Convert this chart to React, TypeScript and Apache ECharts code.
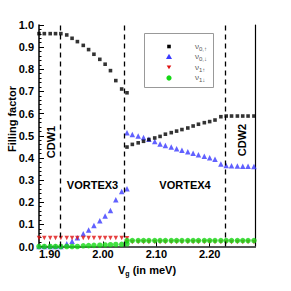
import React, { useEffect, useRef } from "react";
import * as echarts from "echarts";

// Gate voltage values (meV) of the computed points
const vg = [
  1.88, 1.89, 1.901, 1.911, 1.921, 1.932, 1.942, 1.952, 1.963, 1.973, 1.983, 1.994, 2.004, 2.014,
  2.024, 2.035, 2.045, 2.055, 2.066, 2.076, 2.086, 2.097, 2.107, 2.117, 2.128, 2.138, 2.148, 2.159,
  2.169, 2.179, 2.19, 2.2, 2.21, 2.221, 2.231, 2.241, 2.252, 2.262, 2.272, 2.283,
];

// Left branch: vg[0..16], right branch: vg[16..39]
const nu0UpLeft = [0.961, 0.961, 0.961, 0.961, 0.961, 0.955, 0.94, 0.925, 0.908, 0.889, 0.868, 0.845, 0.823, 0.794, 0.749, 0.711, 0.694];
const nu0UpRight = [0.449, 0.461, 0.468, 0.475, 0.483, 0.49, 0.497, 0.507, 0.514, 0.521, 0.528, 0.535, 0.544, 0.552, 0.559, 0.564, 0.571, 0.586, 0.589, 0.589, 0.589, 0.589, 0.589, 0.589];
const nu0DownLeft = [0, 0, 0, 0, 0, 0.012, 0.024, 0.039, 0.057, 0.074, 0.095, 0.116, 0.138, 0.163, 0.211, 0.248, 0.261];
const nu0DownRight = [0.514, 0.506, 0.499, 0.492, 0.484, 0.474, 0.463, 0.456, 0.449, 0.441, 0.435, 0.428, 0.421, 0.414, 0.408, 0.401, 0.394, 0.372, 0.366, 0.364, 0.363, 0.362, 0.362, 0.361];
const nu1UpLeft = [0.038, 0.038, 0.038, 0.038, 0.038, 0.038, 0.038, 0.038, 0.038, 0.038, 0.038, 0.038, 0.038, 0.038, 0.038, 0.038, 0.037];
const nu1UpRight = [0.02, 0.02, 0.02, 0.02, 0.02, 0.02, 0.02, 0.02, 0.02, 0.02, 0.02, 0.02, 0.02, 0.02, 0.02, 0.02, 0.02, 0.02, 0.02, 0.02, 0.02, 0.02, 0.02, 0.02];
const nu1DownLeft = [0, 0, 0, 0, 0, 0, 0, 0, 0.003, 0.004, 0.005, 0.006, 0.007, 0.008, 0.009, 0.01, 0.012];
const nu1DownRight = [0.027, 0.027, 0.027, 0.027, 0.027, 0.027, 0.027, 0.027, 0.027, 0.027, 0.027, 0.027, 0.027, 0.027, 0.027, 0.027, 0.027, 0.027, 0.027, 0.027, 0.027, 0.027, 0.027, 0.027];

const xTickValues = [1.9, 2.0, 2.1, 2.2];
const phaseBoundaries = [1.918, 2.045, 2.229];
const seriesNames = ["ν0,↑", "ν0,↓", "ν1↑", "ν1↓"];
const legendLabels = ["ν{s|0,↑}", "ν{s|0,↓}", "ν{s|1↑}", "ν{s|1↓}"];
const regionNames = ["CDW1", "VORTEX3", "VORTEX4", "CDW2"];

const FONT = "Liberation Sans, Arial, sans-serif";

export default function App() {
  const ref = useRef<HTMLDivElement>(null);
  useEffect(() => {
    const chart = echarts.init(ref.current!, null, { renderer: "svg" });
    const leftX = vg.slice(0, 17);
    const rightX = vg.slice(16);
    const pairs = (xs: number[], ys: number[]) => ys.map((y, i) => [xs[i], y]);
    const both = (l: number[], r: number[]) => [...pairs(leftX, l), ...pairs(rightX, r)];

    const colors = ["#000000", "#3a3aff", "#e01010", "#14d814"];
    const legendSymbols: any[] = [
      { type: "rect", shape: { x: 167.2, y: 44.7, width: 3.6, height: 3.6 }, style: { fill: colors[0] } },
      { type: "polygon", shape: { points: [[169, 53.8], [172, 59], [166, 59]] }, style: { fill: colors[1] } },
      { type: "polygon", shape: { points: [[166.7, 65.6], [171.3, 65.6], [169, 69.3]] }, style: { fill: colors[2] } },
      { type: "circle", shape: { cx: 169, cy: 78, r: 2.6 }, style: { fill: colors[3] } },
    ];
    const legendRows = [46.5, 56.8, 67.3, 77.8];

    chart.setOption({
      animation: false,
      grid: { left: 39, right: 36, top: 25, bottom: 44.5, containLabel: false },
      xAxis: [
        {
          type: "value",
          min: 1.88,
          max: 2.285,
          name: "V{s|g} (in meV)",
          nameLocation: "middle",
          nameGap: 14,
          nameTextStyle: {
            fontFamily: FONT,
            fontWeight: "bold",
            fontSize: 11,
            color: "#000",
            rich: { s: { fontSize: 7, fontWeight: "bold", fontFamily: FONT, padding: [8, 0, 0, 0] } },
          },
          axisLine: { lineStyle: { color: "#000", width: 1.5 } },
          axisTick: { inside: true, length: 5, customValues: xTickValues, lineStyle: { color: "#000" } },
          axisLabel: {
            customValues: xTickValues,
            formatter: (v: number) => v.toFixed(2),
            fontFamily: FONT,
            fontWeight: "bold",
            fontSize: 11,
            color: "#000",
            margin: 2,
          },
          splitLine: { show: false },
        },
        {
          type: "value",
          min: 1.88,
          max: 2.285,
          position: "top",
          axisLine: { show: true, lineStyle: { color: "#555", width: 2 } },
          axisTick: { show: false },
          axisLabel: { show: false },
          splitLine: { show: false },
        },
      ],
      yAxis: [
        {
          type: "value",
          min: 0,
          max: 1,
          interval: 0.1,
          axisLine: { show: true, lineStyle: { color: "#000", width: 1.5 } },
          axisTick: { show: true, inside: true, length: 5, lineStyle: { color: "#000" } },
          minorTick: { show: true, splitNumber: 5, length: 2.5, lineStyle: { color: "#000" } },
          axisLabel: {
            formatter: (v: number) => v.toFixed(1),
            fontFamily: FONT,
            fontWeight: "bold",
            fontSize: 11,
            color: "#000",
            margin: 5,
          },
          splitLine: { show: false },
        },
        {
          type: "value",
          min: 0,
          max: 1,
          position: "right",
          axisLine: { show: true, lineStyle: { color: "#000", width: 1.2 } },
          axisTick: { show: false },
          axisLabel: { show: false },
          splitLine: { show: false },
        },
      ],
      series: [
        {
          name: seriesNames[0],
          type: "scatter",
          clip: false,
          symbol: "rect",
          symbolSize: 3.6,
          itemStyle: { color: colors[0] },
          data: both(nu0UpLeft, nu0UpRight),
          z: 3,
          markLine: {
            silent: true,
            symbol: "none",
            label: { show: false },
            lineStyle: { color: "#000", type: [5, 4], width: 1.3 },
            data: phaseBoundaries.map((x) => ({ xAxis: x })),
          },
        },
        {
          name: seriesNames[1],
          type: "scatter",
          clip: false,
          symbol: "triangle",
          symbolSize: 5.5,
          itemStyle: { color: colors[1] },
          data: both(nu0DownLeft, nu0DownRight),
          z: 2,
        },
        {
          name: seriesNames[2],
          type: "scatter",
          clip: false,
          symbol: "triangle",
          symbolRotate: 180,
          symbolSize: 4.5,
          itemStyle: { color: colors[2] },
          data: both(nu1UpLeft, nu1UpRight),
          z: 2,
        },
        {
          name: seriesNames[3],
          type: "scatter",
          clip: false,
          symbol: "circle",
          symbolSize: 5.5,
          itemStyle: { color: colors[3] },
          data: both(nu1DownLeft, nu1DownRight),
          z: 4,
        },
      ],
      graphic: [
        {
          type: "text",
          x: 12,
          y: 119,
          rotation: Math.PI / 2,
          style: { text: "Filling factor", fontFamily: FONT, fontWeight: "bold", fontSize: 11, fill: "#000", align: "center", verticalAlign: "middle" },
        },
        {
          type: "text",
          x: 50.5,
          y: 142,
          rotation: Math.PI / 2,
          style: { text: regionNames[0], fontFamily: FONT, fontWeight: "bold", fontSize: 11, fill: "#000", align: "center", verticalAlign: "middle" },
        },
        {
          type: "text",
          x: 92.5,
          y: 184.5,
          style: { text: regionNames[1], fontFamily: FONT, fontWeight: "bold", fontSize: 11, fill: "#000", align: "center", verticalAlign: "middle" },
        },
        {
          type: "text",
          x: 185,
          y: 184.5,
          style: { text: regionNames[2], fontFamily: FONT, fontWeight: "bold", fontSize: 11, fill: "#000", align: "center", verticalAlign: "middle" },
        },
        {
          type: "text",
          x: 241.5,
          y: 140,
          rotation: Math.PI / 2,
          style: { text: regionNames[3], fontFamily: FONT, fontWeight: "bold", fontSize: 11, fill: "#000", align: "center", verticalAlign: "middle" },
        },
        {
          type: "rect",
          shape: { x: 144.5, y: 33.5, width: 69, height: 54 },
          style: { fill: "#fff", stroke: "#999", lineWidth: 1 },
          z: 10,
        },
        ...legendSymbols.map((s) => ({ ...s, z: 11 })),
        ...legendLabels.map((t, i) => ({
          type: "text",
          x: 195,
          y: legendRows[i],
          z: 11,
          style: {
            text: t,
            fontFamily: FONT,
            fontSize: 8,
            fill: "#555",
            verticalAlign: "middle",
            rich: { s: { fontSize: 6, fill: "#555", fontFamily: FONT, padding: [5, 0, 0, 0] } },
          },
        })),
      ],
    });
    return () => chart.dispose();
  }, []);
  return <div ref={ref} style={{ position: "absolute", left: 0, top: 0, width: 291, height: 291 }} />;
}
